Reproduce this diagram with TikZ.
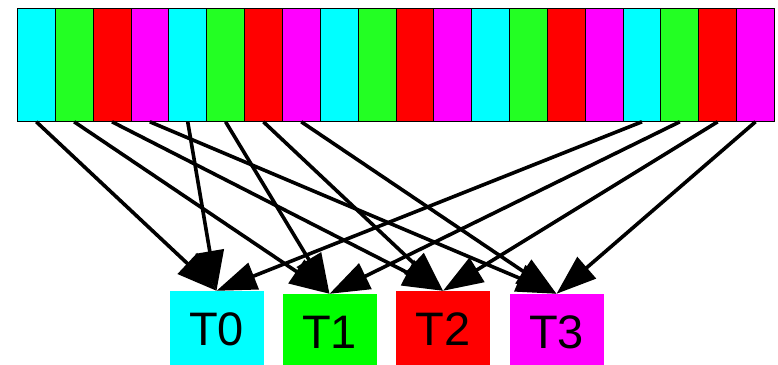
\documentclass[tikz,border=0pt]{standalone}
\usepackage{fontspec}
\setmainfont{Liberation Sans}
\usetikzlibrary{arrows.meta}
\definecolor{cc0}{RGB}{0,255,255}
\definecolor{cc1}{RGB}{35,255,35}
\definecolor{cc2}{RGB}{255,0,0}
\definecolor{cc3}{RGB}{255,0,255}
\definecolor{tgreen}{RGB}{0,255,0}

\tikzset{
    bighead/.tip={Triangle[length=40pt, width=28pt]},
}

\begin{document}
\begin{tikzpicture}[x=1pt, y=-1pt,
    cell/.style={draw, line width=0.8pt, anchor=north west, inner sep=0pt,
        minimum width=37.85pt, minimum height=113pt},
    task/.style={inner sep=0pt, minimum width=94pt, minimum height=76pt,
        font=\fontsize{47}{47}\selectfont},
    flow/.style={line width=3.6pt, arrows={-bighead}}]
    \useasboundingbox (0,0) rectangle (778,364);

    % Strip of cells, colours repeating every four
    \foreach \i in {0,...,19} {
        \pgfmathtruncatemacro{\k}{mod(\i,4)}
        \node[cell, fill=cc\k] (c\i) at ({17+\i*37.85}, 8) {};
    }

    % Threads
    \node[task, fill=cc0] (t0) at (216.5, 329) {T0};
    \node[task, fill=tgreen] (t1) at (329.5, 332) {T1};
    \node[task, fill=cc2] (t2) at (443, 329) {T2};
    \node[task, fill=cc3] (t3) at (556.5, 332) {T3};

    % Hand-out of cells to threads
    \foreach \i in {0,...,7,16,17,18,19} {
        \pgfmathtruncatemacro{\k}{mod(\i,4)}
        \draw[flow] (c\i.south) -- (t\k.north);
    }
\end{tikzpicture}
\end{document}
